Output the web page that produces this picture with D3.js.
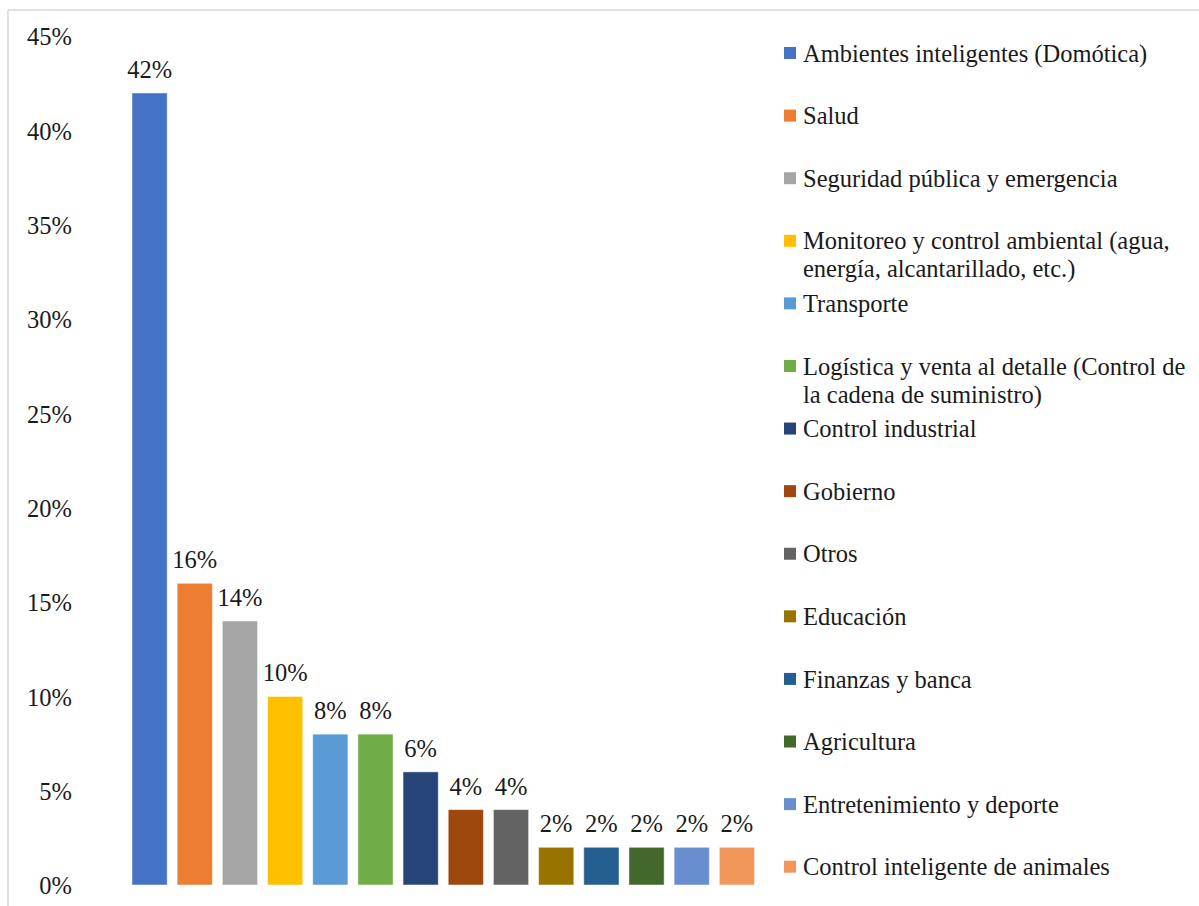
<!DOCTYPE html>
<html>
<head>
<meta charset="utf-8">
<script src="https://cdn.jsdelivr.net/npm/d3@7"></script>
<style>
  body { margin: 0; background: #fff; }
</style>
</head>
<body>
<svg id="chart" width="1199" height="906"></svg>
<script>
// Chart data
var categories = [
  "Ambientes inteligentes (Domótica)",
  "Salud",
  "Seguridad pública y emergencia",
  "Monitoreo y control ambiental (agua, energía, alcantarillado, etc.)",
  "Transporte",
  "Logística y venta al detalle (Control de la cadena de suministro)",
  "Control industrial",
  "Gobierno",
  "Otros",
  "Educación",
  "Finanzas y banca",
  "Agricultura",
  "Entretenimiento y deporte",
  "Control inteligente de animales"
];
var values = [42, 16, 14, 10, 8, 8, 6, 4, 4, 2, 2, 2, 2, 2];
var colors = ["#4472C4", "#ED7D31", "#A5A5A5", "#FFC000", "#5B9BD5", "#70AD47",
              "#264478", "#9E480E", "#636363", "#997300", "#255E91", "#43682B",
              "#698ED0", "#F1975A"];
// legend lines (wrapped as in the picture)
var legendLines = [
  ["Ambientes inteligentes (Domótica)"],
  ["Salud"],
  ["Seguridad pública y emergencia"],
  ["Monitoreo y control ambiental (agua,", "energía, alcantarillado, etc.)"],
  ["Transporte"],
  ["Logística y venta al detalle (Control de", "la cadena de suministro)"],
  ["Control industrial"],
  ["Gobierno"],
  ["Otros"],
  ["Educación"],
  ["Finanzas y banca"],
  ["Agricultura"],
  ["Entretenimiento y deporte"],
  ["Control inteligente de animales"]
];
var yTicks = [0, 5, 10, 15, 20, 25, 30, 35, 40, 45];

var svg = d3.select("#chart");
var fontSize = 24.5;
var fontFamily = "'Liberation Serif', 'Times New Roman', serif";

// frame (only top and left edges visible)
svg.append("line").attr("x1", 8).attr("y1", 10).attr("x2", 1199).attr("y2", 10)
   .attr("stroke", "#d9d9d9").attr("stroke-width", 1.5);
svg.append("line").attr("x1", 8).attr("y1", 10).attr("x2", 8).attr("y2", 906)
   .attr("stroke", "#d9d9d9").attr("stroke-width", 1.5);

var y = d3.scaleLinear().domain([0, 45]).range([885, 36.4]);
var x = d3.scaleBand().domain(d3.range(categories.length))
    .range([127, 759.5]).paddingInner(0.22).paddingOuter(0.11);

// y axis labels, no axis line / ticks
var yAxis = d3.axisLeft(y).tickValues(yTicks)
    .tickFormat(function(d) { return d + "%"; })
    .tickSize(0).tickPadding(0);
var gy = svg.append("g").attr("transform", "translate(72,0)").call(yAxis);
gy.select(".domain").remove();
gy.selectAll("text")
  .style("font-size", fontSize + "px")
  .style("font-family", fontFamily)
  .attr("fill", "#1a1a1a")
  .attr("dy", "0.35em");

// bars
svg.append("g").selectAll("rect")
  .data(values)
  .enter().append("rect")
  .attr("x", function(d, i) { return x(i); })
  .attr("y", function(d) { return y(d); })
  .attr("width", x.bandwidth())
  .attr("height", function(d) { return y(0) - y(d); })
  .attr("fill", function(d, i) { return colors[i]; })
  .attr("stroke", "#ffffff")
  .attr("stroke-opacity", 0.5)
  .attr("stroke-width", 1);

// data labels
svg.append("g").selectAll("text")
  .data(values)
  .enter().append("text")
  .attr("x", function(d, i) { return x(i) + x.bandwidth() / 2; })
  .attr("y", function(d) { return y(d) - 15; })
  .attr("text-anchor", "middle")
  .style("font-size", fontSize + "px")
  .style("font-family", fontFamily)
  .attr("fill", "#1a1a1a")
  .text(function(d) { return d + "%"; });

// legend
var legendY = d3.scalePoint().domain(d3.range(categories.length)).range([53, 866.7]);
var legend = svg.append("g").selectAll("g")
  .data(legendLines)
  .enter().append("g")
  .attr("transform", function(d, i) { return "translate(784," + legendY(i) + ")"; });

legend.append("rect")
  .attr("x", 0).attr("y", -6)
  .attr("width", 12).attr("height", 12)
  .attr("fill", function(d, i) { return colors[i]; });

legend.each(function(lines) {
  var t = d3.select(this).append("text")
    .attr("x", 19).attr("y", 0)
    .style("font-size", fontSize + "px")
    .style("font-family", fontFamily)
    .attr("fill", "#1a1a1a");
  lines.forEach(function(l, j) {
    t.append("tspan").attr("x", 19).attr("dy", j === 0 ? "0.35em" : 28).text(l);
  });
});
</script>
</body>
</html>
